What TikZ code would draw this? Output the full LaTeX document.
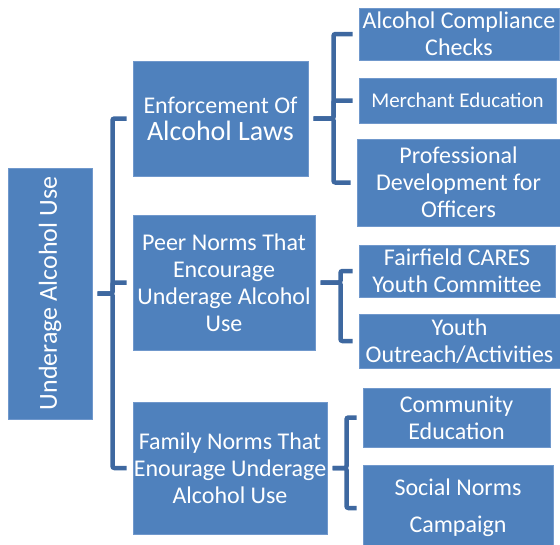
\documentclass[tikz,border=0pt]{standalone}
\usepackage{fontspec}
\setmainfont{Carlito}
\usepackage{graphicx}
\usetikzlibrary{positioning}

\definecolor{boxblue}{RGB}{79,129,189}
\definecolor{boxedge}{RGB}{112,152,204}
\definecolor{linkblue}{RGB}{62,104,160}

\begin{document}
\begin{tikzpicture}[x=1pt, y=-1pt]

            % Define block styles
            \tikzstyle{block} = [rectangle, draw=boxedge, line width=1pt, fill=boxblue, text=white, align=center, inner sep=0pt, font=\fontsize{24}{27}\selectfont]
            \tikzstyle{link} = [draw=linkblue, line width=4.5pt, rounded corners=2pt, shorten <=5pt, shorten >=6pt]

            \useasboundingbox (0,0) rectangle (560,544);

            % Nodes
            \node [block, minimum width=84pt, minimum height=251pt] (root) at (50,293.5) {\rotatebox{90}{\fontsize{26}{28}\selectfont Underage Alcohol Use}};

            \node [block, minimum width=175pt, minimum height=115pt] (enforce) at (220.5,118.5) {\fontsize{24}{29}\selectfont Enforcement Of\\\fontsize{28}{29}\selectfont Alcohol Laws};
            \node [block, minimum width=182pt, minimum height=135pt] (peer) at (224,282.5) {Peer Norms That\\Encourage\\Underage Alcohol\\Use};
            \node [block, minimum width=194pt, minimum height=132pt] (family) at (230,468) {Family Norms That\\Enourage Underage\\Alcohol Use};

            \node [block, minimum width=200pt, minimum height=52pt] (checks) at (459,34) {Alcohol Compliance\\Checks};
            \node [block, minimum width=197pt, minimum height=45pt, font=\fontsize{21}{24}\selectfont] (merchant) at (457.5,100.5) {Merchant Education};
            \node [block, minimum width=203pt, minimum height=87pt] (officers) at (458.5,182.5) {Professional\\Development for\\Officers};

            \node [block, minimum width=196pt, minimum height=52pt] (cares) at (457,271) {Fairfield CARES\\Youth Committee};
            \node [block, minimum width=201pt, minimum height=54pt] (outreach) at (459.5,341) {Youth\\Outreach/Activities};

            \node [block, minimum width=187pt, minimum height=59pt] (community) at (456.5,417.5) {Community\\Education};
            \node [block, minimum width=190pt, minimum height=86pt, font=\fontsize{24}{37}\selectfont] (social) at (458,508) {Social Norms\\Campaign};

            % Lines
            \path [link] (root.east) -- ++(20,0) |- (enforce.west);
            \path [link] (root.east) -- ++(20,0) |- (peer.west);
            \path [link] (root.east) -- ++(20,0) |- (family.west);

            \path [link] (enforce.east) -- ++(25,0) |- (checks.west);
            \path [link] (enforce.east) -- ++(25,0) |- (merchant.west);
            \path [link] (enforce.east) -- ++(25,0) |- (officers.west);

            \path [link] (peer.east) -- ++(25,0) |- (cares.west);
            \path [link] (peer.east) -- ++(25,0) |- (outreach.west);

            \path [link] (family.east) -- ++(19,0) |- (community.west);
            \path [link] (family.east) -- ++(19,0) |- (social.west);

\end{tikzpicture}
\end{document}
